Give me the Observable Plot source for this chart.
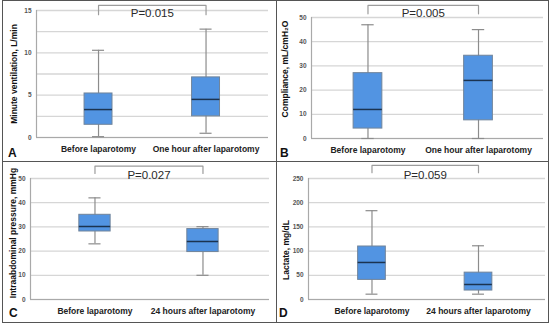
<!DOCTYPE html>
<html>
<head>
<meta charset="utf-8">
<script src="https://cdn.jsdelivr.net/npm/d3@7"></script>
<script src="https://cdn.jsdelivr.net/npm/@observablehq/plot@0.6"></script>
<style>
  html, body { margin: 0; padding: 0; background: #fff; }
  #fig { position: relative; width: 550px; height: 327px; overflow: hidden; font-family: "Liberation Sans", Arial, sans-serif; }
  .frame { position: absolute; left: 2px; top: 0px; width: 547px; height: 323px; box-sizing: border-box; border: 1px solid #555; }
  .vdiv { position: absolute; left: 276px; top: 0px; width: 1px; height: 323px; background: #555; }
  .hdiv { position: absolute; left: 2px; top: 161px; width: 547px; height: 1px; background: #555; }
  .panel { position: absolute; }
  .panel svg { display: block; overflow: visible; }
  .letter { position: absolute; font-size: 12px; line-height: 12px; font-weight: bold; color: #111; }
</style>
</head>
<body>
<div id="fig">
  <div class="frame"></div>
  <div class="vdiv"></div>
  <div class="hdiv"></div>
</div>
<script>
// ---- data ----
const catsTop = ["Before laparotomy", "One hour after laparotomy"];
const catsBottom = ["Before laparotomy", "24 hours after laparotomy"];
// each group: [min, Q1, median, Q3, max]
const minuteVentilation = [[0.1, 1.5, 3.3, 5.2, 10.3], [0.5, 2.5, 4.5, 7.1, 12.8]];
const compliance = [[0, 4.1, 12, 27, 47], [0, 7.5, 24, 34.2, 45]];
const intraabdominal = [[23, 28.1, 30.2, 35, 42], [10, 19.6, 24, 29.1, 30.1]];
const lactate = [[11, 40.5, 76.5, 109.5, 183.5], [11, 18.5, 31, 55.5, 111]];
const yTicksA = [0, 5, 10, 15];
const yGridA = [0, 2.5, 5, 7.5, 10, 12.5, 15];
const yTicks50 = [0, 10, 20, 30, 40, 50];
const yTicksD = [0, 50, 100, 150, 200, 250];
const yTitles = ["Minute ventilation, L/min", "Compliance, mL/cmH\u2082O", "Intraabdominal pressure, mmHg", "Lactate, mg/dL"];
const pLabels = ["P=0.015", "P=0.005", "P=0.027", "P=0.059"];
const bracketTop = [15.6, 55, 55.1, 277];
const bracketLeg = [14.5, 51.5, 52.1, 262];
const pTextY = [14.2, 50.1, 50, 250];
const panelLetters = ["A", "B", "C", "D"];

// ---- layout (styling only) ----
const layout = [
  {left: 3,   top: 1,   width: 273, height: 160, mL: 33, mR: 8, mT: 9,  mB: 24, xDomain: [-0.577, 1.581], boxHalf: 0.13, titleDx: -22, titleDy: 0,  letterX: 5, letterY: 146},
  {left: 277, top: 1,   width: 271, height: 160, mL: 34, mR: 5, mT: 16, mB: 23, xDomain: [-0.511, 1.588], boxHalf: 0.13, titleDx: -26, titleDy: -9, letterX: 3, letterY: 146},
  {left: 3,   top: 162, width: 273, height: 160, mL: 27, mR: 7, mT: 16, mB: 23, xDomain: [-0.597, 1.616], boxHalf: 0.145, titleDx: -17, titleDy: -6, letterX: 6, letterY: 145},
  {left: 277, top: 162, width: 271, height: 160, mL: 31, mR: 3, mT: 16, mB: 23, xDomain: [-0.596, 1.629], boxHalf: 0.13, titleDx: -22, titleDy: 11, letterX: 2, letterY: 145}
];

const panelsData = [
  {cats: catsTop, stats: minuteVentilation, yDomain: [0, 15], yTicks: yTicksA, grid: yGridA},
  {cats: catsTop, stats: compliance, yDomain: [0, 50], yTicks: yTicks50, grid: yTicks50},
  {cats: catsBottom, stats: intraabdominal, yDomain: [0, 50], yTicks: yTicks50, grid: yTicks50},
  {cats: catsBottom, stats: lactate, yDomain: [0, 250], yTicks: yTicksD, grid: yTicksD}
];

const fig = document.getElementById("fig");
const capHalf = 0.056;

panelsData.forEach((pd, k) => {
  const L = layout[k];
  const groups = pd.stats.map((s, i) => ({i, min: s[0], q1: s[1], med: s[2], q3: s[3], max: s[4]}));
  const bracket = [
    {x: 0, y: bracketLeg[k]}, {x: 0, y: bracketTop[k]},
    {x: 1, y: bracketTop[k]}, {x: 1, y: bracketLeg[k]}
  ];
  const chart = Plot.plot({
    width: L.width, height: L.height,
    marginLeft: L.mL, marginRight: L.mR, marginTop: L.mT, marginBottom: L.mB,
    style: {fontFamily: "'Liberation Sans', Arial, sans-serif", background: "transparent", overflow: "visible"},
    x: {type: "linear", domain: L.xDomain, axis: null},
    y: {domain: pd.yDomain, axis: null},
    marks: [
      Plot.gridY({ticks: pd.grid, stroke: "#d6d6d6", strokeOpacity: 1, strokeWidth: 1.3}),
      Plot.ruleY([pd.yDomain[0]], {stroke: "#a9a9a9", strokeWidth: 1.2}),
      Plot.ruleX([L.xDomain[0]], {stroke: "#a9a9a9", strokeWidth: 1.2}),
      Plot.axisY({ticks: pd.yTicks, tickSize: 0, tickPadding: 5, fontSize: 6.5, fontWeight: "bold", fill: "#555", label: null}),
      Plot.axisX({ticks: [0, 1], tickFormat: i => pd.cats[i], tickSize: 0, tickPadding: 8, fontSize: 8.5, fontWeight: "bold", fill: "#222", label: null}),
      Plot.ruleX(groups, {x: "i", y1: "min", y2: "max", stroke: "#8c8c8c", strokeWidth: 1.2}),
      Plot.ruleY(groups, {y: "min", x1: d => d.i - capHalf, x2: d => d.i + capHalf, stroke: "#8c8c8c", strokeWidth: 1.2}),
      Plot.ruleY(groups, {y: "max", x1: d => d.i - capHalf, x2: d => d.i + capHalf, stroke: "#8c8c8c", strokeWidth: 1.2}),
      Plot.rect(groups, {x1: d => d.i - L.boxHalf, x2: d => d.i + L.boxHalf, y1: "q1", y2: "q3", fill: "#5294e2", stroke: "#71849a", strokeWidth: 1}),
      Plot.ruleY(groups, {y: "med", x1: d => d.i - L.boxHalf, x2: d => d.i + L.boxHalf, stroke: "#1b3350", strokeWidth: 1.5}),
      Plot.line(bracket, {x: "x", y: "y", stroke: "#9c9c9c", strokeWidth: 1.2}),
      Plot.text([pLabels[k]], {x: 0.5, y: pTextY[k], text: d => d, lineAnchor: "bottom", fontSize: 11.5, fill: "#2a2a2a"}),
      Plot.text([yTitles[k]], {frameAnchor: "left", text: d => d, rotate: -90, dx: L.titleDx, dy: L.titleDy, textAnchor: "middle", lineAnchor: "middle", fontSize: 8.5, fontWeight: "bold", fill: "#111"})
    ]
  });
  const wrap = document.createElement("div");
  wrap.className = "panel";
  wrap.style.left = L.left + "px";
  wrap.style.top = L.top + "px";
  wrap.appendChild(chart);
  fig.appendChild(wrap);

  const letter = document.createElement("div");
  letter.className = "letter";
  letter.textContent = panelLetters[k];
  letter.style.left = (L.left + L.letterX) + "px";
  letter.style.top = (L.top + L.letterY) + "px";
  fig.appendChild(letter);
});
</script>
</body>
</html>
